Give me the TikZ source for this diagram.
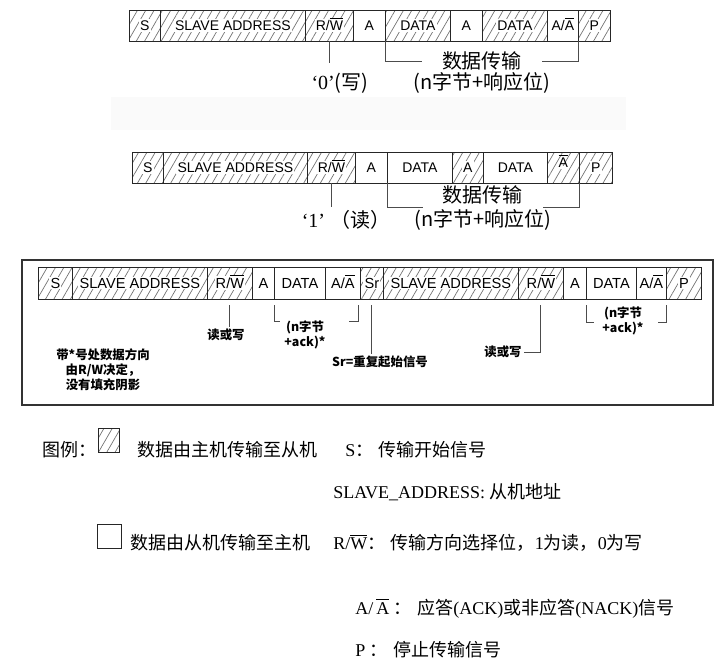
\documentclass[tikz,border=0pt]{standalone}
\usepackage{fontspec}
\setmainfont{Liberation Serif}
\setsansfont{Liberation Sans}
\newfontfamily\cjk{Noto Sans CJK SC}
\usetikzlibrary{patterns.meta}

\newcommand{\rwbar}{R/\smash{\ensuremath{\overline{\mbox{W}}}}}
\newcommand{\ackbar}{A/\smash{\ensuremath{\overline{\mbox{A}}}}}
\newcommand{\nackbar}{\smash{\ensuremath{\overline{\mbox{A}}}}}
\setlength{\fboxsep}{0.6pt}

\begin{document}
\begin{tikzpicture}[
    x=0.5pt, y=-0.5pt,
    cell/.style={draw=black!85, line width=0.4pt, inner sep=0pt, anchor=west,
                 minimum height=15.5pt, font=\sffamily\fontsize{7}{8}\selectfont},
    hbox/.style={cell, pattern={Lines[angle=60,distance=3.6pt,line width=0.35pt]},
                 pattern color=black!55},
    wbox/.style={cell, fill=white},
    big/.style={minimum height=16pt, font=\sffamily\fontsize{7.3}{8}\selectfont},
    ctxt/.style={font=\cjk\fontsize{10}{11}\selectfont, inner sep=1pt},
    qlab/.style={font=\fontsize{10}{11}\selectfont, inner sep=1pt},
    note/.style={font=\cjk\bfseries\fontsize{6.2}{7.5}\selectfont, align=center, inner sep=1pt},
    leg/.style={font=\fontsize{9}{11}\selectfont, anchor=west, inner sep=0pt},
    brk/.style={draw=black!70, line width=0.5pt}
]
    \fill[black!2] (111,97) rectangle (626,130);

    % write frame
    \foreach \xa/\xb/\txt/\sty [count=\i] in {129/160/S/hbox, 160/305/SLAVE ADDRESS/hbox,
        305/353/\rwbar/hbox, 353/385/A/wbox, 385/450/DATA/hbox, 450/482/A/wbox,
        482/547/DATA/hbox, 547/578/\ackbar/wbox, 578/610/P/hbox}
        \node[\sty, minimum width={(\xb-\xa)*0.5pt}] (ra\i) at (\xa,25.5) {\colorbox{white}{\txt}};

    \node[qlab] (wr0) at (340,83) {‘0’{\cjk(写)}};
    \node[ctxt, inner xsep=10pt] (tr1) at (482,61) {数据传输};
    \node[ctxt] (nb1) at (482,83) {(n字节+响应位)};
    \draw[brk] (ra3.south) -- ++(0,22);
    \draw[brk] (ra5.south west) |- (tr1.west);
    \draw[brk] (ra8.south east) |- (tr1.east);

    % read frame
    \foreach \xa/\xb/\txt/\sty [count=\i] in {132/163/S/hbox, 163/307/SLAVE ADDRESS/hbox,
        307/355/\rwbar/hbox, 355/387/A/wbox, 387/452/DATA/wbox, 452/483/A/hbox,
        483/547/DATA/wbox, 547/579/\nackbar/hbox, 579/612/P/hbox}
        \node[\sty, minimum width={(\xb-\xa)*0.5pt}] (rb\i) at (\xa,167.5) {\colorbox{white}{\txt}};

    \node[qlab] (rd1) at (346,220) {‘1’\ {\cjk（读）}};
    \node[ctxt, inner xsep=10pt] (tr2) at (483,195) {数据传输};
    \node[ctxt] (nb2) at (483,220) {(n字节+响应位)};
    \draw[brk] (rb3.south) -- ++(0,24);
    \draw[brk] (rb5.south west) |- ([yshift=-6pt]tr2.west);
    \draw[brk] (rb8.south east) |- ([yshift=-6pt]tr2.east);

    % combined frame
    \draw[black!80, line width=0.9pt] (22,260) rectangle (713,405);
    \foreach \xa/\xb/\txt/\sty [count=\i] in {38/72/S/hbox, 72/207/SLAVE ADDRESS/hbox,
        207/252/\rwbar/hbox, 252/274/A/wbox, 274/325/DATA/wbox, 325/360/\ackbar/wbox,
        360/383/Sr/hbox, 383/518/SLAVE ADDRESS/hbox, 518/563/\rwbar/hbox,
        563/586/A/wbox, 586/636/DATA/wbox, 636/666/\ackbar/wbox, 666/701/P/hbox}
        \node[\sty, big, minimum width={(\xb-\xa)*0.5pt}] (rc\i) at (\xa,283) {\colorbox{white}{\txt}};

    \node[note] (rwl1) at (226,335) {读或写};
    \node[note] (ack1) at (305,335) {(n字节\\+ack)*};
    \node[note] (srl) at (380,362) {Sr=重复起始信号};
    \node[note] (rwl2) at (503,352) {读或写};
    \node[note] (ack2) at (623,321) {(n字节\\+ack)*};
    \node[note] (dir) at (103,370) {带*号处数据方向\\由R/W决定，\\没有填充阴影};

    \draw[brk] ([yshift=-3pt]rc3.south) -- (rc3.south |- rwl1.north);
    \draw[brk] ([yshift=-3pt]rc5.south west) -- ++(0,16) -- ++(6,0);
    \draw[brk] ([shift={(-1pt,-3pt)}]rc6.south east) -- ++(0,16) -- ++(-10,0);
    \draw[brk] ([yshift=-3pt]rc7.south) -- (rc7.south |- srl.north);
    \draw[brk] ([yshift=-3pt]rc9.south) |- (rwl2.east);
    \draw[brk] ([yshift=-3pt]rc11.south west) -- ++(0,17) -- ++(8,0);
    \draw[brk] ([yshift=-3pt]rc12.south east) -- ++(0,17) -- ++(-9,0);

    % legend
    \node[leg] (legt) at (42,450) {{\cjk 图例：}};
    \node[hbox, minimum width=10.5pt, minimum height=12pt] (legh) at (98,440) {};
    \node[leg] (legm) at (137,450) {{\cjk 数据由主机传输至从机}};
    \node[leg] (legs) at (345,450) {S{\cjk ：\hspace{0.3em}传输开始信号}};
    \node[leg] (lega) at (333,492) {SLAVE\_ADDRESS: {\cjk 从机地址}};
    \node[wbox, minimum width=12pt, minimum height=12pt] (legw) at (97,536) {};
    \node[leg] (legn) at (130,543) {{\cjk 数据由从机传输至主机}};
    \node[leg] (legr) at (333,543) {R/$\overline{\mbox{W}}${\cjk ：\hspace{0.3em}传输方向选择位，}1{\cjk 为读，}0{\cjk 为写}};
    \node[leg] (legk) at (355,608) {A/\,$\overline{\mbox{A}}$\ {\cjk ：\hspace{0.3em}应答}(ACK){\cjk 或非应答}(NACK){\cjk 信号}};
    \node[leg] (legp) at (355,650) {P\ {\cjk ：\hspace{0.3em}停止传输信号}};

    \path[use as bounding box] (0,0) rectangle (725,666);
\end{tikzpicture}
\end{document}
